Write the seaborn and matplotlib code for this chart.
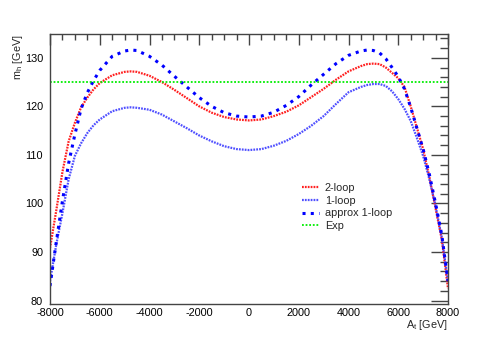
import numpy as np
import pandas as pd
import seaborn as sns
import matplotlib.pyplot as plt
from matplotlib.ticker import MultipleLocator

sns.set_style("white")
plt.rcParams['font.family'] = ['Liberation Sans', 'DejaVu Sans']
plt.rcParams['mathtext.fontset'] = 'custom'
plt.rcParams['mathtext.rm'] = 'Liberation Sans'
plt.rcParams['mathtext.it'] = 'Liberation Sans'
plt.rcParams['axes.unicode_minus'] = False

# A_t values (GeV)
at = [-8000, -7750, -7500, -7250, -7000, -6750, -6500, -6250, -6000, -5500, -5000, -4750,
      -4500, -4000, -3500, -3000, -2500, -2000, -1500, -1000, -500, 0,
      500, 1000, 1500, 2000, 2500, 3000, 3500, 4000, 4500, 4750, 5000, 5250,
      5500, 5750, 6000, 6250, 6500, 6750, 7000, 7250, 7500, 7750, 8000]

# m_h values (GeV)
mh_2loop = [90.8, 98.5, 106.5, 112.8, 116.6, 119.8, 121.8, 123.5, 124.8, 126.4, 127.1, 127.2,
            127.1, 126.3, 125.0, 123.4, 121.7, 120.0, 118.7, 117.8, 117.3, 117.1,
            117.3, 118.0, 118.9, 120.2, 121.9, 123.6, 125.5, 127.2, 128.3, 128.7, 128.8, 128.7,
            128.0, 126.9, 125.8, 124.0, 120.0, 115.6, 111.2, 105.5, 99.0, 92.6, 82.5]

mh_1loop = [84.0, 91.5, 98.0, 105.0, 109.8, 112.4, 114.5, 116.1, 117.3, 119.0, 119.7, 119.8,
            119.7, 119.3, 118.3, 116.9, 115.5, 114.0, 112.8, 111.8, 111.2, 111.0,
            111.2, 111.9, 112.9, 114.3, 116.0, 118.0, 120.5, 122.9, 124.0, 124.4, 124.6, 124.6,
            124.2, 123.1, 121.5, 119.5, 117.0, 113.5, 109.8, 105.0, 99.5, 93.0, 84.0]

mh_approx = [83.0, 92.0, 100.5, 108.3, 114.2, 119.5, 122.8, 125.3, 127.4, 130.3, 131.4, 131.6,
             131.5, 130.3, 128.5, 126.2, 124.0, 121.8, 120.0, 118.7, 118.0, 117.8,
             118.0, 118.8, 120.2, 122.0, 124.4, 126.6, 128.8, 130.5, 131.4, 131.6, 131.5, 131.0,
             129.8, 128.0, 126.1, 123.6, 119.8, 115.5, 111.2, 106.0, 100.0, 93.5, 84.0]

mh_exp = 125.0

df = pd.DataFrame({"At": at, "two": mh_2loop, "one": mh_1loop, "approx": mh_approx})
df["exp"] = mh_exp

fig = plt.figure(figsize=(4.98, 3.39), dpi=100)
ax = fig.add_axes([50 / 498, 1 - 304 / 339, 398 / 498, 270 / 339])

sns.lineplot(data=df, x="At", y="two", ax=ax, color="#ff2020", lw=1.6,
             linestyle=(0, (0.8, 0.5)), label="2-loop", sort=False)
sns.lineplot(data=df, x="At", y="one", ax=ax, color="#3030ff", lw=1.6, alpha=0.85,
             linestyle=(0, (0.8, 0.5)), label="1-loop", sort=False)
sns.lineplot(data=df, x="At", y="approx", ax=ax, color="#0000ff", lw=2.2,
             linestyle=(0, (1, 1.7)), label="approx 1-loop", sort=False)
sns.lineplot(data=df, x="At", y="exp", ax=ax, color="#00ee00", lw=1.3,
             linestyle=(0, (1, 1)), label="Exp", sort=False)

for line in ax.get_lines():
    line.set_dash_capstyle("butt")

ax.set_xlim(-8000, 8000)
ax.set_ylim(79.3, 134.9)
ax.xaxis.set_major_locator(MultipleLocator(2000))
ax.xaxis.set_minor_locator(MultipleLocator(500))
ax.yaxis.set_major_locator(MultipleLocator(10))
ax.yaxis.set_minor_locator(MultipleLocator(2))

ax.tick_params(axis="both", which="both", direction="in", top=True, right=True,
               colors="#444444", labelcolor="black", labelsize=7.8, width=1)
ax.tick_params(axis="x", which="major", length=8, pad=3)
ax.tick_params(axis="x", which="minor", length=4)
ax.tick_params(axis="y", which="major", length=12, pad=5)
ax.tick_params(axis="y", which="minor", length=6)
ax.tick_params(axis="y", which="both", labelright=False)
ax.tick_params(axis="x", which="both", labeltop=False)
for s in ax.spines.values():
    s.set_color("#444444")
    s.set_linewidth(1)

ax.set_xlabel(r"A$_\mathrm{t}$ [GeV]", loc="right", fontsize=7.8, labelpad=0)
ax.set_ylabel(r"m$_\mathrm{h}$ [GeV]", loc="top", fontsize=7.8)
ax.yaxis.set_label_coords((25 - 50) / 398, 1.0)

ax.legend(loc="upper left", bbox_to_anchor=(302 / 498, 1 - 183 / 339),
          bbox_transform=fig.transFigure, frameon=False, fontsize=7.8,
          handlelength=1.6, handletextpad=0.5, labelspacing=0.25, borderpad=0,
          borderaxespad=0)

fig.savefig("out.png", dpi=100)
